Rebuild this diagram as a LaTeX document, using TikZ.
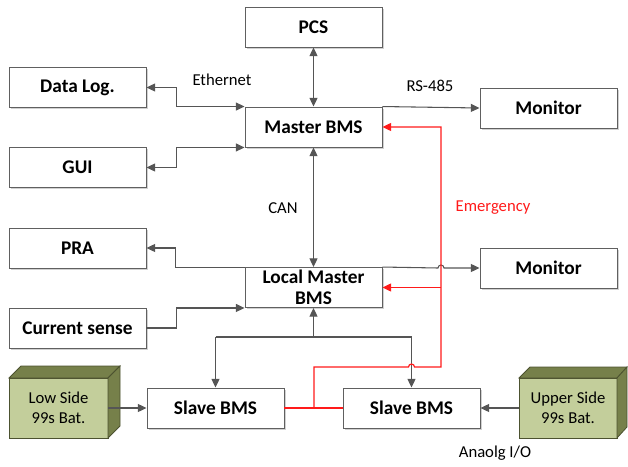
\documentclass[tikz,border=0pt]{standalone}
\usepackage{fontspec}
\setmainfont{Carlito}
\usetikzlibrary{arrows.meta,shadows}
\definecolor{ln}{HTML}{555555}
\definecolor{bord}{HTML}{606060}
\definecolor{batf}{HTML}{C3CE9B}
\definecolor{batd}{HTML}{76804A}
\definecolor{bate}{HTML}{4C5230}
\definecolor{emr}{HTML}{FF1A1A}
\begin{document}
\begin{tikzpicture}[x=0.75pt,y=-0.75pt,
  blk/.style={draw=bord,line width=0.7pt,fill=white,minimum width=102.75pt,minimum height=30pt,inner sep=1pt,
    font=\fontsize{14.5}{15}\selectfont\bfseries,align=center,
    drop shadow={shadow xshift=1.2pt,shadow yshift=-1.2pt,fill=black,opacity=0.18}},
  conn/.style={draw=ln,line width=0.8pt},
  tip/.style={-{Triangle[length=6.5pt,width=6pt]}},
  dbl/.style={{Triangle[length=6.5pt,width=6pt]}-{Triangle[length=6.5pt,width=6pt]}},
  lbl/.style={font=\fontsize{12.5}{13}\selectfont,inner sep=0pt},
  battxt/.style={font=\fontsize{12.5}{15}\selectfont,align=center,inner sep=0pt}]
\useasboundingbox (0,0) rectangle (628,467);
% blocks
\node[blk] (pcs) at (313.5,27) {PCS};
\node[blk] (mb) at (313.5,127) {Master BMS};
\node[blk] (dl) at (77.5,87.5) {Data Log.};
\node[blk] (gui) at (77.5,167.5) {GUI};
\node[blk] (mon1) at (548.5,108) {Monitor};
\node[blk] (pra) at (77.5,248) {PRA};
\node[blk] (cs) at (77.5,328) {Current sense};
\node[blk,font=\fontsize{14.5}{16}\selectfont\bfseries] (lm) at (313.5,287.5) {Local Master\\BMS};
\node[blk] (mon2) at (548.5,268) {Monitor};
\node[blk] (sb1) at (215.5,408) {Slave BMS};
\node[blk] (sb2) at (411.5,408) {Slave BMS};
% batteries
\filldraw[fill=batf,draw=bate,line width=0.6pt] (9,378) rectangle (108,438);
\filldraw[fill=batd,draw=bate,line width=0.6pt] (9,378) -- (21,366) -- (120,366) -- (108,378) -- cycle;
\filldraw[fill=batd,draw=bate,line width=0.6pt] (108,378) -- (120,366) -- (120,426) -- (108,438) -- cycle;
\node[battxt] (bl) at (58.5,408) {Low Side\\99s Bat.};
\coordinate (blr) at (108,408);
\filldraw[fill=batf,draw=bate,line width=0.6pt] (519,378) rectangle (617,438);
\filldraw[fill=batd,draw=bate,line width=0.6pt] (519,378) -- (530,367) -- (627,367) -- (617,378) -- cycle;
\filldraw[fill=batd,draw=bate,line width=0.6pt] (617,378) -- (627,367) -- (627,427) -- (617,438) -- cycle;
\node[battxt] (bu) at (568,408) {Upper Side\\99s Bat.};
\coordinate (bul) at (519,408);
% labels
\node[lbl] (eth) at (222,80) {Ethernet};
\node[lbl] (rs) at (430,86) {RS-485};
\node[lbl] (can) at (283,208) {CAN};
\node[lbl,text=emr] (em) at (493,208) {Emergency};
\node[lbl] (aio) at (495,453) {Anaolg I/O};
% gray connectors
\draw[conn,dbl] (pcs.south) -- (mb.north);
\draw[conn,dbl] (dl.east) -- ++(30,0) |- (mb.north west);
\draw[conn,dbl] (gui.east) -- ++(30,0) |- (mb.south west);
\draw[conn,tip] (mb.north east) -- (mon1.west);
\draw[conn,dbl] (mb.south) -- (lm.north);
\draw[conn,tip] (lm.north west) -- ++(-69,0) |- (pra.east);
\draw[conn,tip] (lm.north east) -- (438,268) arc[start angle=180,end angle=0,radius=2.25pt] -- (mon2.west);
\draw[conn,tip] (cs.east) -- ++(30,0) |- (lm.south west);
\coordinate (bus) at (313.5,337);
\draw[conn,tip] (bus) -- (lm.south);
\draw[conn] (sb1.north |- bus) -- (sb2.north |- bus);
\draw[conn,tip] (sb1.north |- bus) -- (sb1.north);
\draw[conn,tip] (sb2.north |- bus) -- (sb2.north);
\draw[conn,tip] (blr) -- (sb1.west);
\draw[conn,tip] (bul) -- (sb2.east);
% emergency
\coordinate (ej) at (314,408);
\coordinate (ev) at (441,367);
\draw[emr,line width=0.9pt] (sb1.east) -- (sb2.west);
\draw[emr,line width=0.9pt,tip] (ej) -- (314,367) -- (408.5,367) arc[start angle=180,end angle=0,radius=2.25pt] -- (ev) -- (441,127) -- (mb.east);
\draw[emr,line width=0.9pt,tip] (441,287.5) -- (lm.east);
\end{tikzpicture}
\end{document}
